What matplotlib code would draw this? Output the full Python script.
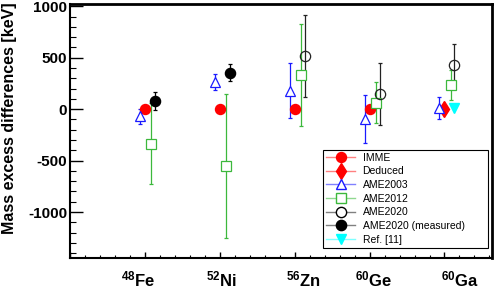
import numpy as np
import matplotlib.pyplot as plt
from matplotlib.lines import Line2D
from matplotlib.ticker import MultipleLocator

plt.rcParams['font.family'] = ['Liberation Sans', 'DejaVu Sans']
plt.rcParams['mathtext.default'] = 'regular'
plt.rcParams['axes.unicode_minus'] = False

# ----------------------------
# Data
# ----------------------------
nuclei = ['$^{48}$Fe', '$^{52}$Ni', '$^{56}$Zn', '$^{60}$Ge', '$^{60}$Ga']
xpos = np.arange(1, 6)

# IMME (48Fe, 52Ni, 56Zn, 60Ge) and deduced (60Ga)
imme_idx = [0, 1, 2, 3]
imme_val = [0, 0, 0, 0]
deduced_idx = [4]
deduced_val = [0]

ame2003_val = [-70, 265, 180, -95, 10]
ame2003_err = [70, 80, 265, 230, 105]

ame2012_val = [-335, -555, 330, 65, 235]
ame2012_err = [395, 700, 495, 200, 150]

ame2020_idx = [2, 3, 4]
ame2020_val = [520, 145, 425]
ame2020_err = [400, 300, 205]

ame2020m_idx = [0, 1]
ame2020m_val = [80, 355]
ame2020m_err = [90, 80]

ref11_idx = [4]
ref11_val = [15]

# ----------------------------
# Plot
# ----------------------------
red = '#ff0000'
blue = '#1a1aff'
green = '#3cb83c'
cyan = '#00ffff'

fig = plt.figure(figsize=(4.98, 2.95), dpi=100)
ax = fig.add_axes([0.1406, 0.1244, 0.8467, 0.861])

eb = dict(linestyle='none', elinewidth=0.9, capsize=1.2, capthick=0.9, markeredgewidth=0.9)

ax.errorbar(xpos - 0.067, ame2003_val, yerr=ame2003_err, marker='^', ms=7.4,
            color=blue, mfc='white', mec=blue, **eb)
ax.errorbar(xpos + 0.082, ame2012_val, yerr=ame2012_err, marker='s', ms=7.2,
            color=green, mfc='white', mec=green, **eb)
ax.errorbar(xpos[ame2020_idx] + 0.133, ame2020_val, yerr=ame2020_err, marker='o', ms=7.4,
            color='#222222', mfc='none', mec='#222222', **eb)
ax.errorbar(xpos[ame2020m_idx] + 0.133, ame2020m_val, yerr=ame2020m_err, marker='o', ms=7.4,
            color='black', mfc='black', mec='black', **eb)
ax.plot(xpos[imme_idx], imme_val, 'o', ms=7.2, color=red, mec=red)
ax.plot(xpos[deduced_idx], deduced_val, 'd', ms=8.5, color=red, mec=red)
ax.plot(xpos[ref11_idx] + 0.133, ref11_val, 'v', ms=7, color=cyan, mec=cyan)

ax.set_xlim(0, 5.63)
ax.set_ylim(-1450, 1020)

ax.xaxis.set_major_locator(MultipleLocator(1))
ax.xaxis.set_minor_locator(MultipleLocator(0.2))
ax.yaxis.set_major_locator(MultipleLocator(500))
ax.yaxis.set_minor_locator(MultipleLocator(100))
ax.set_xticklabels([])
ax.tick_params(axis='x', which='major', direction='in', length=4.5, width=1, top=False)
ax.tick_params(axis='x', which='minor', direction='in', length=2.3, width=0.8, top=False)
ax.tick_params(axis='y', which='major', direction='in', length=9, width=1, right=False,
               pad=2, labelsize=11)
ax.tick_params(axis='y', which='minor', direction='in', length=4.5, width=0.8, right=False)
for lab in ax.get_yticklabels():
    lab.set_fontweight('bold')

for side in ['left', 'bottom']:
    ax.spines[side].set_linewidth(1.5)
for side in ['top', 'right']:
    ax.spines[side].set_linewidth(2)

ax.set_ylabel('Mass excess differences [keV]', fontsize=11.5, fontweight='bold', labelpad=2)
ax.yaxis.set_label_coords(-0.125, 0.55)

# nucleus labels below the axis
label_x = [0.915, 2.016, 3.117, 4.059, 5.207]
for lx, name in zip(label_x, nuclei):
    ax.text(lx, -0.085, name, transform=ax.get_xaxis_transform(), ha='center', va='center',
            fontsize=12, fontweight='bold')

handles = [
    Line2D([], [], color=red, marker='o', ms=7.2, mec=red, mfc=red, lw=0),
    Line2D([], [], color=red, marker='d', ms=8.5, mec=red, mfc=red, lw=0),
    Line2D([], [], color=blue, marker='^', ms=7.4, mec=blue, mfc='white', lw=0),
    Line2D([], [], color=green, marker='s', ms=7.2, mec=green, mfc='white', lw=0),
    Line2D([], [], color='black', marker='o', ms=7.4, mec='black', mfc='white', lw=0),
    Line2D([], [], color='black', marker='o', ms=7.4, mec='black', mfc='black', lw=0),
    Line2D([], [], color=cyan, marker='v', ms=7, mec=cyan, mfc=cyan, lw=0),
]
line_cols = ['#ff8080', '#ff8080', '#8080ff', '#90d890', '#808080', '#808080', '#80ffff']
full = []
for h, c in zip(handles, line_cols):
    bg = Line2D([], [], color=c, lw=1)
    full.append((bg, h))
labels = ['IMME', 'Deduced', 'AME2003', 'AME2012', 'AME2020', 'AME2020 (measured)', 'Ref. [11]']
leg = ax.legend(full, labels, loc='lower left', bbox_to_anchor=(0.6, 0.0417, 0.392, 0.3807),
                mode='expand', borderaxespad=0, fontsize=7.5, labelspacing=0.35,
                handlelength=2.8, handletextpad=0.7, borderpad=0.3, fancybox=False,
                framealpha=1, edgecolor='black')
leg.get_frame().set_linewidth(0.8)

plt.savefig('out.png', dpi=100)
